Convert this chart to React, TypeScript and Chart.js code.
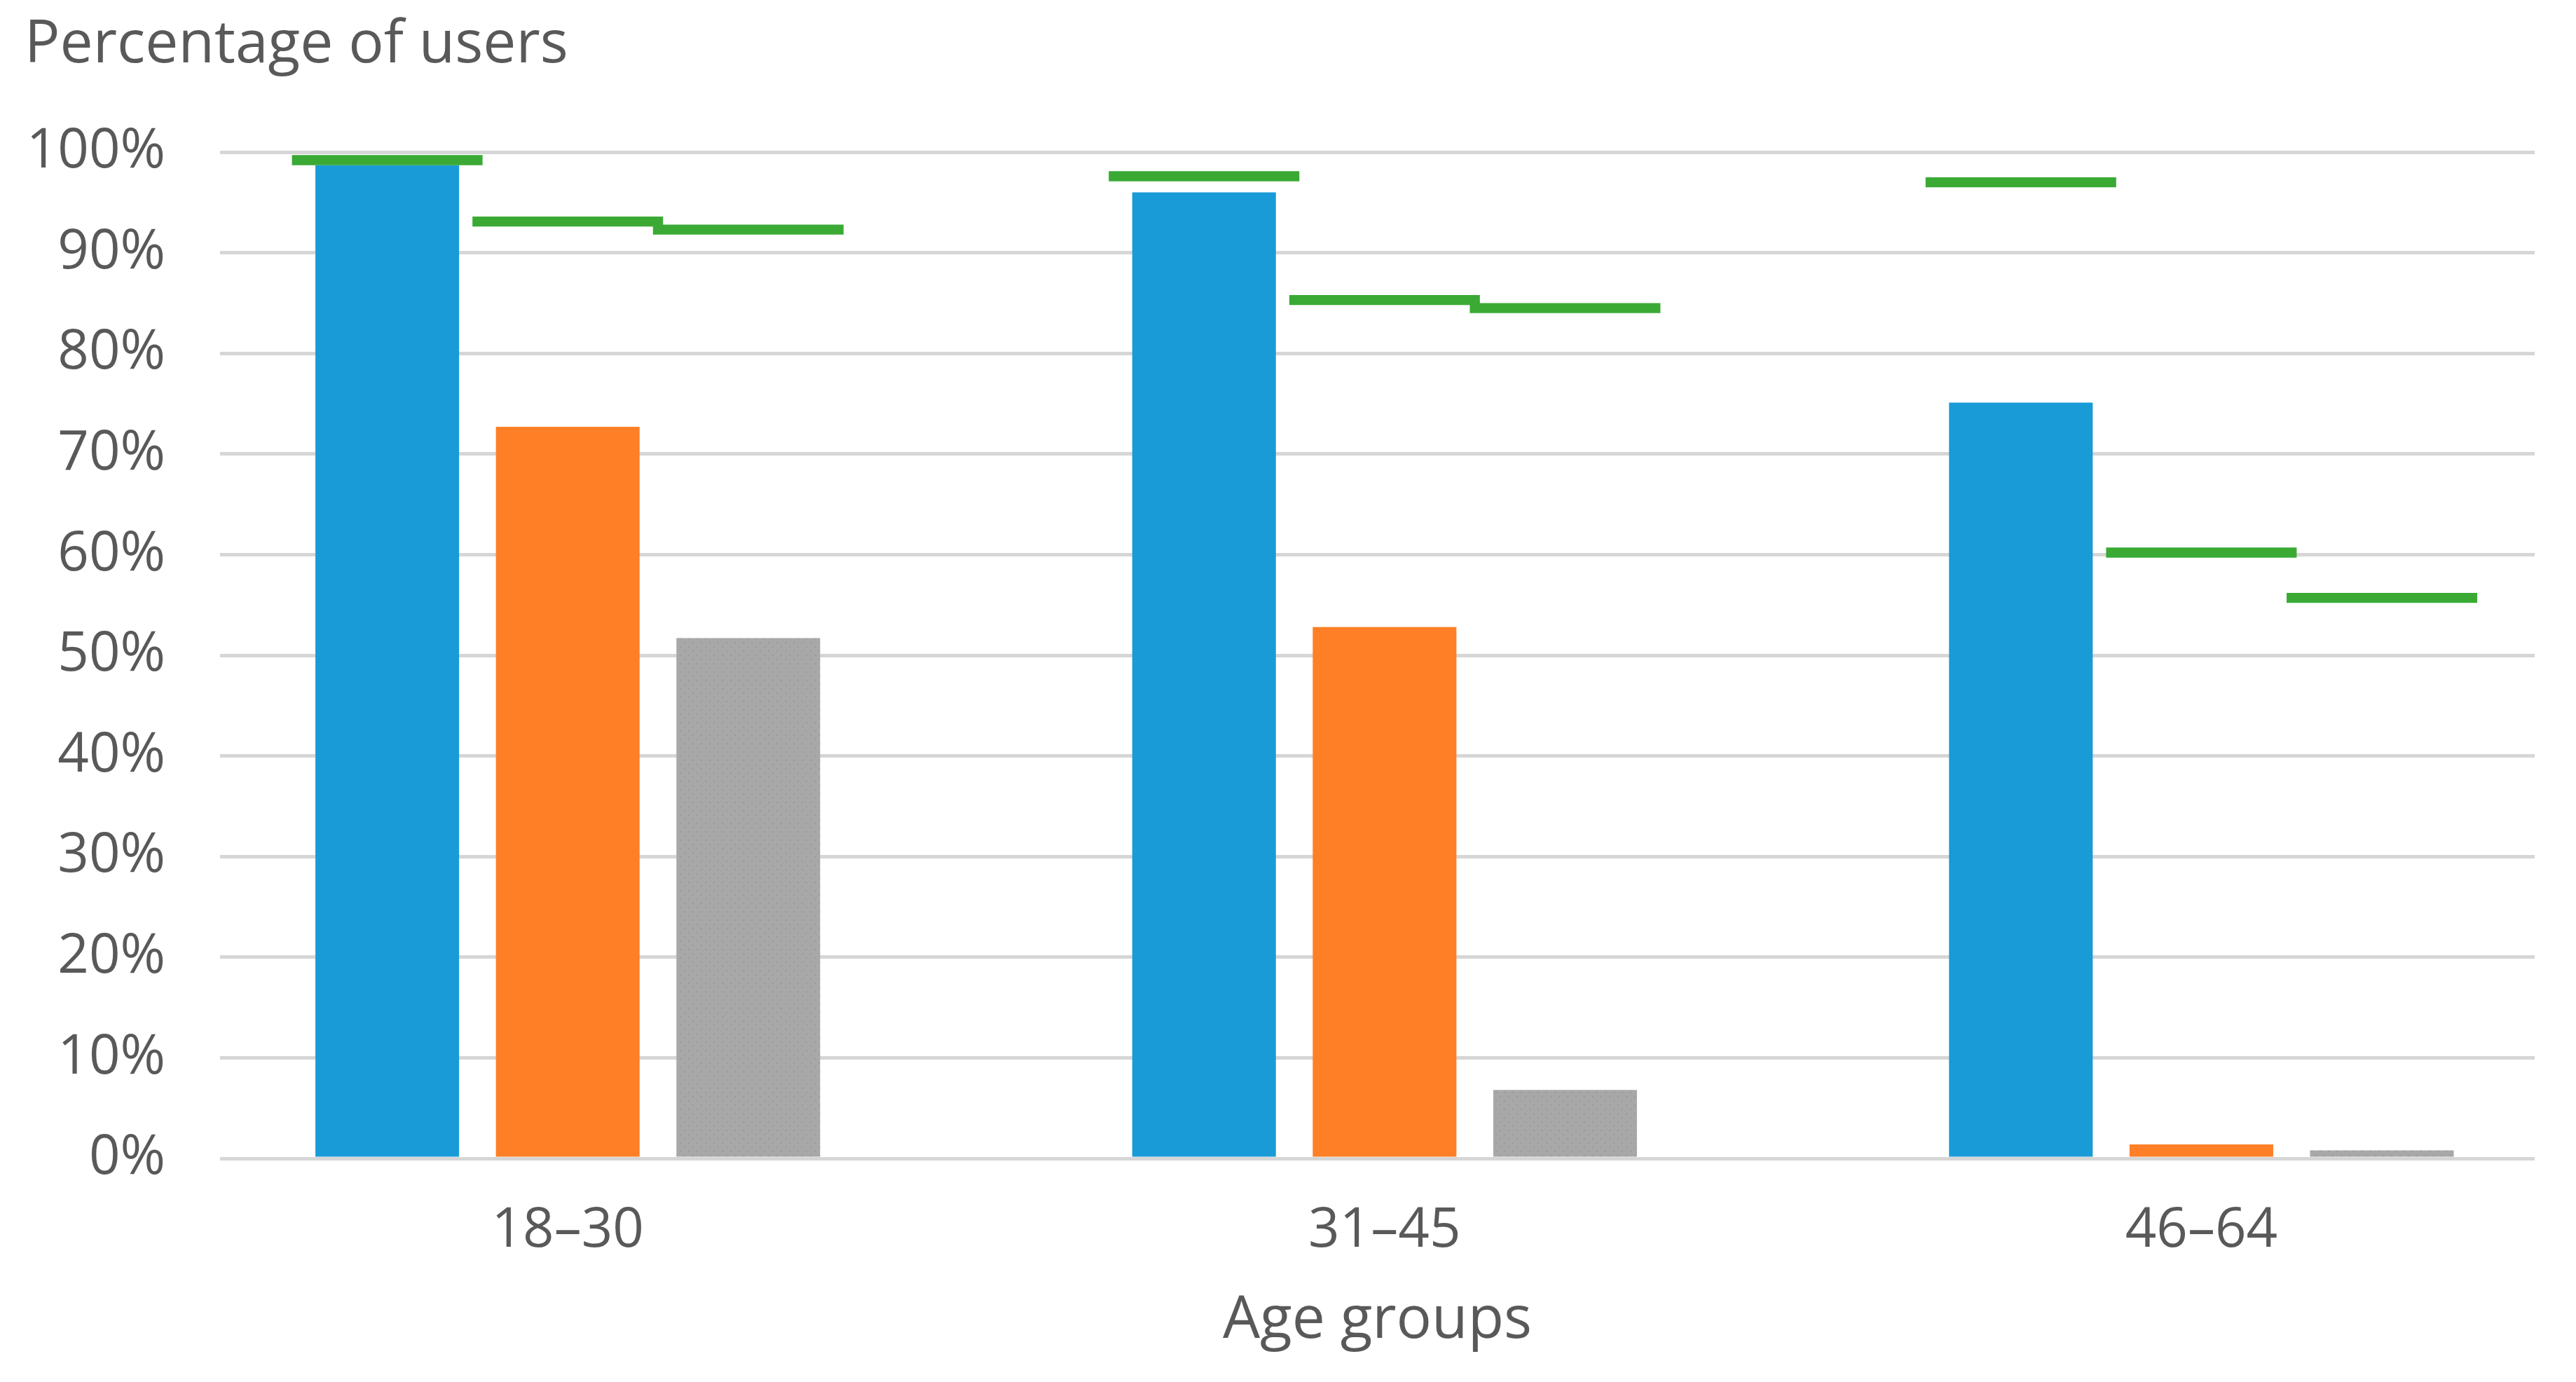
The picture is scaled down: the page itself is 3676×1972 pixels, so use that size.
import React, { useEffect, useRef } from "react";
import { Chart, registerables } from "chart.js";

Chart.register(...registerables);

const categories = ["18–30", "31–45", "46–64"];
const seriesBlue = [98.7, 96.0, 75.1];
const seriesOrange = [72.7, 52.8, 1.4];
const seriesGray = [51.7, 6.8, 0.8];
const markerFirst = [99.2, 97.6, 97.0];
const markerSecond = [93.1, 85.3, 60.2];
const markerThird = [92.3, 84.5, 55.7];
const yMin = 0;
const yMax = 100;
const yStep = 10;

const TEXT = "#595959";
const FONT = "'Open Sans', sans-serif";
const MARKER_HALF = 0.5;
const X_MIN = -0.4257;
const X_MAX = 2.408;
// position of each series' slot inside a category (in category units)
const SLOT_OFFSET = [-0.221, 0, 0.221];

function makeGrayPattern(): CanvasPattern | string {
  const c = document.createElement("canvas");
  c.width = 12;
  c.height = 12;
  const g = c.getContext("2d");
  if (!g) return "#A6A6A6";
  g.fillStyle = "#A8A8A8";
  g.fillRect(0, 0, 12, 12);
  g.fillStyle = "#9A9A9A";
  g.fillRect(2, 2, 2, 2);
  g.fillRect(8, 8, 2, 2);
  return g.createPattern(c, "repeat") || "#A6A6A6";
}

export default function App() {
  const ref = useRef<HTMLCanvasElement | null>(null);

  useEffect(() => {
    if (!ref.current) return;
    const toPts = (arr: number[], slot: number) =>
      arr.map((v, i) => ({ x: i + SLOT_OFFSET[slot], y: v }));
    const toMarks = (arr: number[], slot: number) =>
      arr.map((v, i) => ({ x: i + SLOT_OFFSET[slot], y: [v - MARKER_HALF, v + MARKER_HALF] }));
    const catTicks = (axis: any) => {
      axis.ticks = categories.map((_, i) => ({ value: i }));
    };
    const barCommon = {
      grouped: false,
      categoryPercentage: 1,
      barPercentage: 0.796,
      order: 1,
      borderWidth: 0,
    };
    const markCommon = {
      grouped: false,
      categoryPercentage: 1,
      barPercentage: 1.056,
      order: 0,
      borderWidth: 0,
      backgroundColor: "#3AAA35",
    };
    const chart = new Chart(ref.current, {
      type: "bar",
      data: {
        datasets: [
          { ...markCommon, label: "m1", data: toMarks(markerFirst, 0) as any },
          { ...markCommon, label: "m2", data: toMarks(markerSecond, 1) as any },
          { ...markCommon, label: "m3", data: toMarks(markerThird, 2) as any },
          { ...barCommon, label: "a", data: toPts(seriesBlue, 0) as any, backgroundColor: "#189BD7" },
          { ...barCommon, label: "b", data: toPts(seriesOrange, 1) as any, backgroundColor: "#FE7F25" },
          { ...barCommon, label: "c", data: toPts(seriesGray, 2) as any, backgroundColor: makeGrayPattern() as any },
        ],
      },
      options: {
        animation: false,
        responsive: true,
        maintainAspectRatio: false,
        layout: { padding: { left: 27, right: 51, top: 0, bottom: 28.6 } },
        plugins: {
          legend: { display: false },
          tooltip: { enabled: false },
          title: {
            display: true,
            text: "Percentage of users",
            align: "start",
            color: TEXT,
            font: { family: FONT, size: 84, weight: "normal" },
            padding: { top: 6.6, bottom: 101.6 },
          },
        },
        scales: {
          x: {
            type: "linear",
            offset: false,
            min: X_MIN,
            max: X_MAX,
            afterBuildTicks: catTicks,
            grid: { display: false, drawTicks: false, offset: false },
            border: { display: false },
            ticks: {
              color: TEXT,
              font: { family: FONT, size: 78 },
              padding: 57,
              maxRotation: 0,
              autoSkip: false,
              callback: (v: any) => categories[Math.round(Number(v))] ?? "",
            },
            title: {
              display: true,
              text: "Age groups",
              color: TEXT,
              font: { family: FONT, size: 84 },
              padding: { top: -26, bottom: 0 },
            },
          },
          y: {
            min: yMin,
            max: yMax,
            afterFit: (axis: any) => {
              axis.width = 279;
            },
            grid: { color: "#D6D6D6", lineWidth: 5, drawTicks: false },
            border: { display: false },
            ticks: {
              stepSize: yStep,
              color: TEXT,
              font: { family: FONT, size: 78 },
              padding: 78,
              callback: (v: any) => `${v}%`,
            },
          },
        },
      } as any,
    });
    return () => chart.destroy();
  }, []);

  return (
    <div style={{ width: "3660px", height: "1956px", position: "relative" }}>
      <canvas ref={ref} />
    </div>
  );
}
